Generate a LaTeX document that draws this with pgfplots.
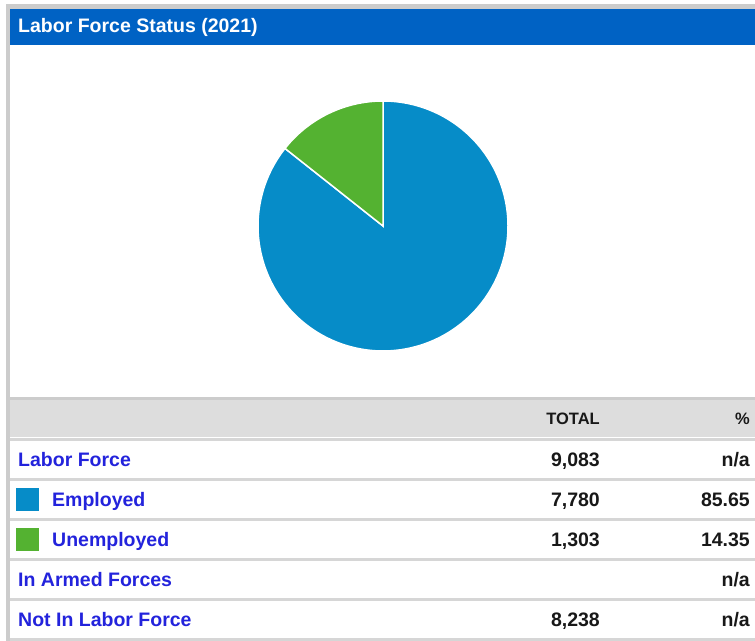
\documentclass[border=0pt]{standalone}
\usepackage{fontspec}
\setmainfont{Liberation Sans}
\usepackage{pgfplots}
\usepackage{pgfplotstable}
\pgfplotsset{compat=1.18}

\definecolor{headblue}{RGB}{0,98,196}
\definecolor{pieblue}{RGB}{6,140,200}
\definecolor{piegreen}{RGB}{84,178,49}
\definecolor{linkblue}{RGB}{35,35,220}
\definecolor{darktext}{RGB}{24,24,24}
\definecolor{framegray}{RGB}{204,204,204}
\definecolor{rowgray}{RGB}{221,221,221}
\definecolor{rulegray}{RGB}{214,214,214}

% labor force status 2021
\pgfplotstableread{
label value
Employed 7780
Unemployed 1303
}\labordata
\pgfplotstablegetelem{0}{value}\of\labordata \let\vEmp\pgfplotsretval
\pgfplotstablegetelem{1}{value}\of\labordata \let\vUne\pgfplotsretval
% pie starts at 12 o'clock and runs clockwise
\pgfmathsetmacro\aShare{\vEmp/(\vEmp+\vUne)}
\pgfmathsetmacro\aSplit{90-360*\aShare}

\begin{document}
\begin{tikzpicture}[x=1bp, y=1bp, font=\bfseries\fontsize{19.5bp}{23bp}\selectfont]
\path[use as bounding box] (0,0) rectangle (755,641);

% panel frame, title bar, table background
\fill[framegray] (6,0) rectangle (755,637);
\fill[headblue] (10,596) rectangle (755,632);
\fill[white] (10,244) rectangle (755,596);
\fill[rowgray] (10,204) rectangle (755,241);
\fill[white] (10,0) rectangle (755,204);
\foreach \yy in {0,40,80,120,160,200}
  \fill[rulegray] (10,\yy) rectangle (755,\yy+3);

\node[anchor=base west, inner sep=0, text=white] at (18,608) {Labor Force Status (2021)};

\coordinate (piec) at (383,415);
\begin{axis}[
  at={(piec)}, anchor=center,
  scale only axis, width=250bp, height=250bp,
  xmin=-1, xmax=1, ymin=-1, ymax=1,
  hide axis, clip=false,
]
\addplot[fill=pieblue, draw=white, line width=1.5bp, domain=\aSplit:90, samples=200]
  ({cos(x)}, {sin(x)}) -- (axis cs:0,0) -- cycle;
\addplot[fill=piegreen, draw=white, line width=1.5bp, domain=-270:\aSplit, samples=40]
  ({cos(x)}, {sin(x)}) -- (axis cs:0,0) -- cycle;
\end{axis}

% table
\begin{scope}[font=\bfseries\fontsize{16.5bp}{19bp}\selectfont, text=darktext, inner sep=0]
\node[anchor=base east] at (600,216) {TOTAL};
\node[anchor=base east] at (750,216) {\%};
\end{scope}

\fill[pieblue] (16,130) rectangle (39,153);
\fill[piegreen] (16,90) rectangle (39,113);

\begin{scope}[text=linkblue, inner sep=0]
\node[anchor=base west] at (18,174) {Labor Force};
\node[anchor=base west] at (52,134) {Employed};
\node[anchor=base west] at (52,94) {Unemployed};
\node[anchor=base west] at (18,54) {In Armed Forces};
\node[anchor=base west] at (18,14) {Not In Labor Force};
\end{scope}

\begin{scope}[text=darktext, inner sep=0]
\node[anchor=base east] at (600,174) {9,083};
\node[anchor=base east] at (750,174) {n/a};
\node[anchor=base east] at (600,134) {7,780};
\node[anchor=base east] at (750,134) {85.65};
\node[anchor=base east] at (600,94) {1,303};
\node[anchor=base east] at (750,94) {14.35};
\node[anchor=base east] at (750,54) {n/a};
\node[anchor=base east] at (600,14) {8,238};
\node[anchor=base east] at (750,14) {n/a};
\end{scope}
\end{tikzpicture}
\end{document}
